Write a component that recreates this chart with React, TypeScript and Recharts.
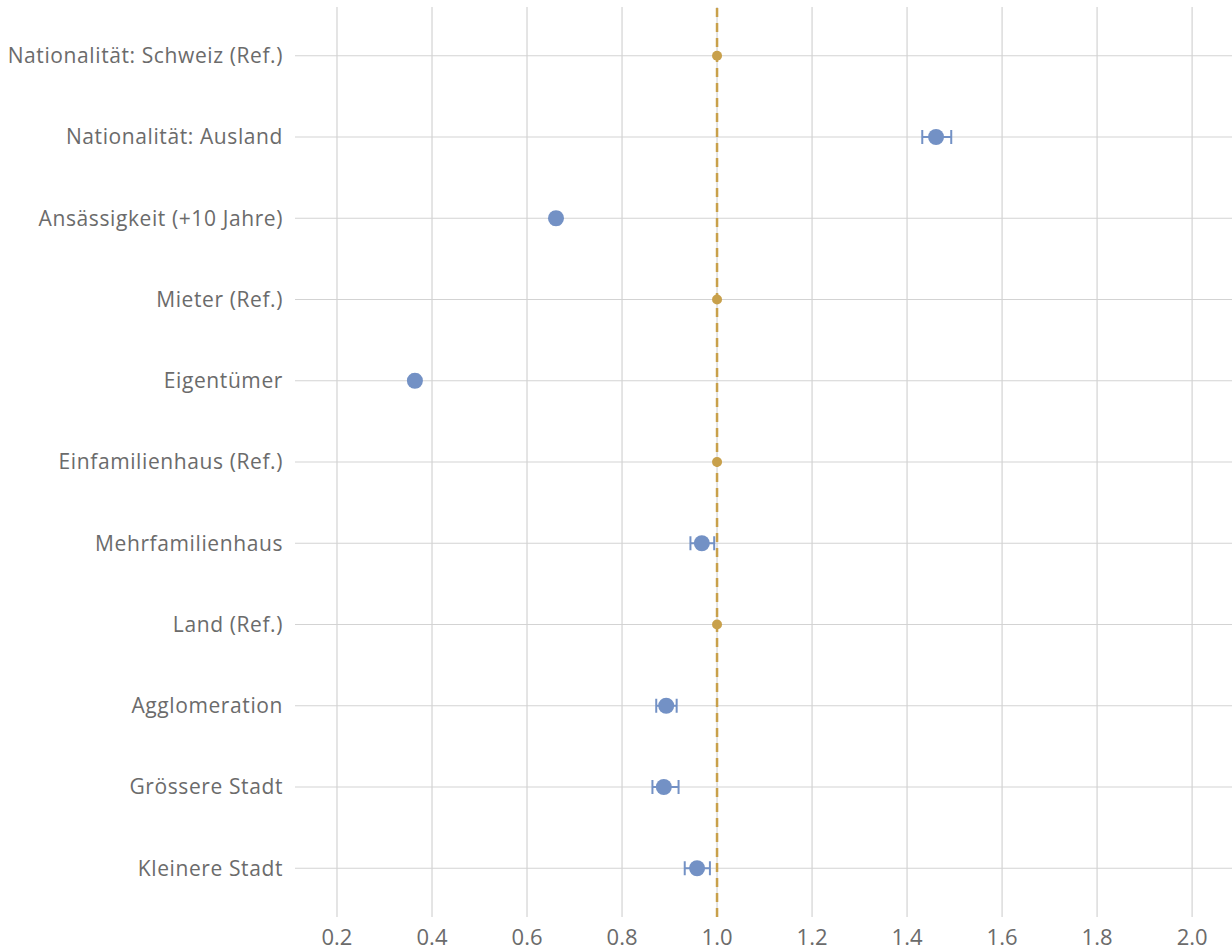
import React from 'react';
import { ScatterChart, Scatter, XAxis, YAxis, CartesianGrid, ReferenceLine, ErrorBar } from 'recharts';

const categories = [
  'Nationalität: Schweiz (Ref.)',
  'Nationalität: Ausland',
  'Ansässigkeit (+10 Jahre)',
  'Mieter (Ref.)',
  'Eigentümer',
  'Einfamilienhaus (Ref.)',
  'Mehrfamilienhaus',
  'Land (Ref.)',
  'Agglomeration',
  'Grössere Stadt',
  'Kleinere Stadt',
];

const estimates = [1, 1.461, 0.661, 1, 0.364, 1, 0.968, 1, 0.893, 0.888, 0.958];
const lower = [1, 1.432, 0.655, 1, 0.358, 1, 0.944, 1, 0.872, 0.864, 0.932];
const upper = [1, 1.493, 0.668, 1, 0.371, 1, 0.994, 1, 0.915, 0.919, 0.985];
const isReference = [true, false, false, true, false, true, false, true, false, false, false];

const xTicks = [0.2, 0.4, 0.6, 0.8, 1.0, 1.2, 1.4, 1.6, 1.8, 2.0];
const rowTicks = categories.map((_, i) => i + 1);

const BLUE = '#7391C5';
const GOLD = '#C8A04B';
const GRID = '#D3D3D3';
const TEXT = '#6B6B6B';
const FONT = '"Open Sans", Roboto, sans-serif';

const rows = categories.map((name, i) => ({
  name,
  row: i + 1,
  est: estimates[i],
  err: [estimates[i] - lower[i], upper[i] - estimates[i]],
}));

const estimateRows = rows.filter((_, i) => !isReference[i]);
const referenceRows = rows.filter((_, i) => isReference[i]);

const BlueDot = ({ cx, cy }: any) => <circle cx={cx} cy={cy} r={8} fill={BLUE} />;
const GoldDot = ({ cx, cy }: any) => <circle cx={cx} cy={cy} r={5} fill={GOLD} />;

export default function App() {
  return (
    <div style={{ position: 'absolute', left: 0, top: 0, background: '#fff' }}>
      <ScatterChart width={1232} height={950} margin={{ top: 7, right: 0, left: 0, bottom: 0 }}>
        <CartesianGrid stroke={GRID} strokeWidth={1.2} syncWithTicks />
        <XAxis
          type="number"
          dataKey="est"
          domain={[0.1116, 2.084]}
          allowDataOverflow
          ticks={xTicks}
          tickFormatter={(v: number) => v.toFixed(1)}
          axisLine={false}
          tickLine={false}
          height={33}
          tickMargin={6}
          tick={{ fill: TEXT, fontSize: 22, fontFamily: FONT }}
        />
        <YAxis
          type="number"
          dataKey="row"
          domain={[0.4, 11.6]}
          reversed
          ticks={rowTicks}
          interval={0}
          tickFormatter={(v: number) => categories[v - 1] ?? ''}
          axisLine={false}
          tickLine={false}
          width={295}
          tickMargin={6}
          tick={{ fill: TEXT, fontSize: 21, fontFamily: FONT, letterSpacing: 0.6 }}
        />
        <ReferenceLine x={1} stroke={GOLD} strokeWidth={2.5} strokeDasharray="9 6" />
        <Scatter data={estimateRows} shape={<BlueDot />} isAnimationActive={false}>
          <ErrorBar dataKey="err" direction="x" width={7} stroke={BLUE} strokeWidth={2} />
        </Scatter>
        <Scatter data={referenceRows} shape={<GoldDot />} isAnimationActive={false} />
      </ScatterChart>
    </div>
  );
}
